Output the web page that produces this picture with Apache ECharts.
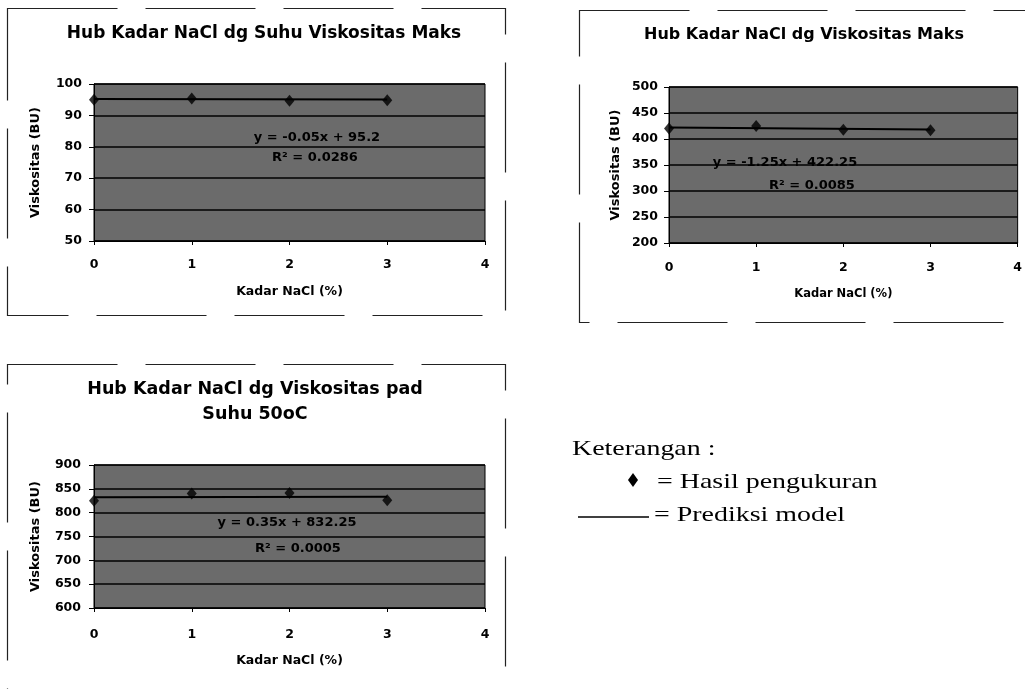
<!DOCTYPE html>
<html>
<head>
<meta charset="utf-8">
<script src="https://cdn.jsdelivr.net/npm/echarts@6/dist/echarts.min.js"></script>
<style>
  html, body { margin: 0; padding: 0; background: #fff; }
  #chart { width: 1025px; height: 689px; }
</style>
</head>
<body>
<div id="chart"></div>
<script>
// ---- data ----
var naclLevels = [0, 1, 2, 3];                 // Kadar NaCl (%)
var suhuViskMaks = [95.0, 95.4, 94.7, 94.8];   // chart 1 (BU)
var viskMaks = [420, 425, 418, 417];           // chart 2 (BU)
var visk50C = [825, 840, 841, 826];            // chart 3 (BU)

// trend lines (slope, intercept) as printed on the charts
var trend1 = [-0.05, 95.2];
var trend2 = [-1.25, 422.25];
var trend3 = [0.35, 832.25];

var eqText1 = ['y = -0.05x + 95.2', 'R² = 0.0286'];
var eqText2 = ['y = -1.25x + 422.25', 'R² = 0.0085'];
var eqText3 = ['y = 0.35x + 832.25', 'R² = 0.0005'];

var titles = ['Hub Kadar NaCl dg Suhu Viskositas Maks',
              'Hub Kadar NaCl dg Viskositas Maks',
              'Hub Kadar NaCl dg Viskositas pad\nSuhu 50oC'];
var xName = 'Kadar NaCl (%)';
var yName = 'Viskositas (BU)';
var xTicks = [0, 1, 2, 3, 4];
var yRanges = [[50, 100, 10], [200, 500, 50], [600, 900, 50]];

// ---- helpers ----
var SANS = 'DejaVu Sans';
function pts(xs, ys) { return xs.map(function (x, i) { return [x, ys[i]]; }); }
function trendPts(t) {
  var x0 = naclLevels[0], x1 = naclLevels[naclLevels.length - 1];
  return [[x0, t[0] * x0 + t[1]], [x1, t[0] * x1 + t[1]]];
}

var grids = [
  { left: 94, top: 84, width: 391, height: 157 },
  { left: 669, top: 87, width: 354, height: 156 },
  { left: 94, top: 465, width: 391, height: 143 }
];
grids.forEach(function (g) {
  g.show = true; g.backgroundColor = '#6b6b6b'; g.borderColor = '#000'; g.borderWidth = 1;
  g.containLabel = false;
});

var xLabelMargin = [17, 18, 20];
var xNameGap = [44, 45, 46];
var yLabelMargin = [12, 11, 13];
var yNameGap = [52, 47, 52];
var nameFont = [12.5, 11.5, 12.5];

var xAxes = [], yAxes = [];
for (var i = 0; i < 3; i++) {
  xAxes.push({
    gridIndex: i, type: 'value', min: xTicks[0], max: xTicks[xTicks.length - 1], interval: 1,
    name: xName, nameLocation: 'middle', nameGap: xNameGap[i],
    nameTextStyle: { fontFamily: SANS, fontWeight: 'bold', fontSize: nameFont[i], color: '#000' },
    axisLine: { show: true, lineStyle: { color: '#000', width: 1 } },
    axisTick: { show: true, inside: false, length: 4, lineStyle: { color: '#000' } },
    axisLabel: { margin: xLabelMargin[i], fontFamily: SANS, fontWeight: 'bold', fontSize: 12.5, color: '#000' },
    splitLine: { show: false }
  });
  yAxes.push({
    gridIndex: i, type: 'value', min: yRanges[i][0], max: yRanges[i][1], interval: yRanges[i][2],
    name: yName, nameLocation: 'middle', nameGap: yNameGap[i],
    nameTextStyle: { fontFamily: SANS, fontWeight: 'bold', fontSize: 13, color: '#000' },
    axisLine: { show: true, lineStyle: { color: '#000', width: 1 } },
    axisTick: { show: true, inside: false, length: 5, lineStyle: { color: '#000' } },
    axisLabel: { margin: yLabelMargin[i], fontFamily: SANS, fontWeight: 'bold', fontSize: 12.5, color: '#000' },
    splitLine: { show: true, lineStyle: { color: '#000', width: 1.6 } }
  });
}

var measured = [suhuViskMaks, viskMaks, visk50C];
var trends = [trend1, trend2, trend3];
var series = [];
for (var j = 0; j < 3; j++) {
  series.push({
    type: 'line', xAxisIndex: j, yAxisIndex: j, data: trendPts(trends[j]),
    symbol: 'none', lineStyle: { color: '#000', width: 2 }, silent: true, z: 3
  });
  series.push({
    type: 'scatter', xAxisIndex: j, yAxisIndex: j, data: pts(naclLevels, measured[j]),
    symbol: 'diamond', symbolSize: [10, 12], itemStyle: { color: '#000' }, z: 4
  });
}

function titleText(x, y, txt, size) {
  return { type: 'text', x: x, y: y, z: 10,
    style: { text: txt, fontFamily: SANS, fontWeight: 'bold', fontSize: size, fill: '#000',
             textAlign: 'center', textVerticalAlign: 'middle', lineHeight: size * 1.45 } };
}
function eqLabel(x, y, txt) {
  return { type: 'text', x: x, y: y, z: 10,
    style: { text: txt, fontFamily: SANS, fontWeight: 'bold', fontSize: 13, fill: '#000',
             textAlign: 'center', textVerticalAlign: 'middle' } };
}
function serifText(x, y, txt) {
  return { type: 'text', x: x, y: y, scaleX: 1.33, z: 10,
    style: { text: txt, fontFamily: 'Liberation Serif', fontSize: 21, fill: '#000',
             textAlign: 'left', textVerticalAlign: 'middle' } };
}
var frameStyle = { stroke: '#222', lineWidth: 1.2, fill: null, lineDash: [110, 28] };

var graphics = [
  // frames
  { type: 'rect', shape: { x: 7.5, y: 8.5, width: 498, height: 307 }, style: frameStyle, silent: true },
  { type: 'rect', shape: { x: 579.5, y: 10.5, width: 470, height: 312 }, style: frameStyle, silent: true },
  { type: 'rect', shape: { x: 7.5, y: 364.5, width: 498, height: 340 }, style: frameStyle, silent: true },
  // titles
  titleText(264, 34, titles[0], 17),
  titleText(804, 35, titles[1], 16),
  titleText(255, 402, titles[2], 17.5),
  // trend equations
  eqLabel(317, 138, eqText1[0]), eqLabel(315, 158, eqText1[1]),
  eqLabel(785, 163, eqText2[0]), eqLabel(812, 186, eqText2[1]),
  eqLabel(287, 523, eqText3[0]), eqLabel(298, 549, eqText3[1]),
  // explanation
  serifText(572, 449, 'Keterangan :'),
  { type: 'polygon', shape: { points: [[633, 473], [638, 480], [633, 487], [628, 480]] },
    style: { fill: '#000' } },
  serifText(657, 482, '= Hasil pengukuran'),
  { type: 'line', shape: { x1: 578, y1: 517, x2: 649, y2: 517 }, style: { stroke: '#000', lineWidth: 1.5 } },
  serifText(654, 515, '= Prediksi model')
];

var chart = echarts.init(document.getElementById('chart'), null, { renderer: 'canvas' });
chart.setOption({
  animation: false,
  backgroundColor: '#fff',
  grid: grids,
  xAxis: xAxes,
  yAxis: yAxes,
  series: series,
  graphic: graphics
});
</script>
</body>
</html>
